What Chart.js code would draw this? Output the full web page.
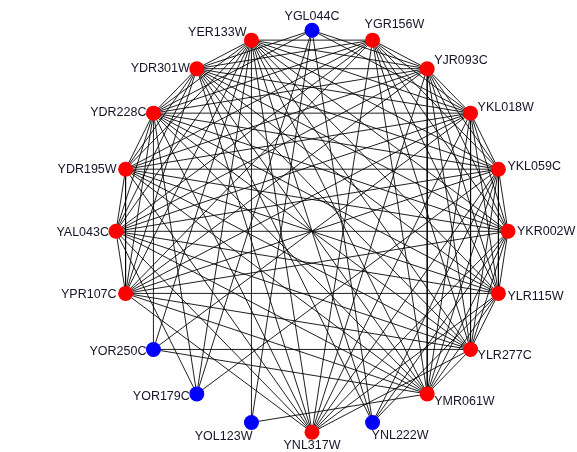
<!DOCTYPE html>
<html>
<head>
<meta charset="utf-8">
<script src="https://cdn.jsdelivr.net/npm/chart.js@4.4.1/dist/chart.umd.min.js"></script>
<style>
  html, body { margin: 0; padding: 0; background: #ffffff; }
  #wrap { width: 577px; height: 452px; }
</style>
</head>
<body>
<div id="wrap"><canvas id="net" width="577" height="452"></canvas></div>
<script>
// Proteins of the complex, placed clockwise around the ring starting from the left.
const proteins = [
  'YAL043C', 'YDR195W', 'YDR228C', 'YDR301W', 'YER133W',
  'YGL044C', 'YGR156W', 'YJR093C', 'YKL018W', 'YKL059C',
  'YKR002W', 'YLR115W', 'YLR277C', 'YMR061W', 'YNL222W',
  'YNL317W', 'YOL123W', 'YOR179C', 'YOR250C', 'YPR107C'
];

// Proteins drawn in blue; all others are drawn in red.
const blueProteins = ['YGL044C', 'YNL222W', 'YOL123W', 'YOR179C', 'YOR250C'];

// Interactions between the red proteins that are absent.
const missingRedPairs = [
  ['YNL317W', 'YMR061W']
];

// Interactions of the blue proteins.
const blueInteractions = [
  ['YGL044C', 'YDR301W'], ['YGL044C', 'YDR228C'], ['YGL044C', 'YOR179C'],
  ['YGL044C', 'YOL123W'], ['YGL044C', 'YNL222W'], ['YGL044C', 'YJR093C'],
  ['YGL044C', 'YKL018W'],
  ['YNL222W', 'YER133W'], ['YNL222W', 'YDR301W'], ['YNL222W', 'YKR002W'],
  ['YNL222W', 'YLR115W'], ['YNL222W', 'YKL059C'],
  ['YOL123W', 'YER133W'], ['YOL123W', 'YMR061W'],
  ['YOR179C', 'YER133W'], ['YOR179C', 'YKL059C'], ['YOR179C', 'YDR228C'],
  ['YOR179C', 'YAL043C'],
  ['YOR250C', 'YDR228C'], ['YOR250C', 'YLR277C'], ['YOR250C', 'YER133W'],
  ['YOR250C', 'YMR061W'], ['YOR250C', 'YKL018W']
];

// Build the full edge list.
const redProteins = proteins.filter(p => !blueProteins.includes(p));
const isMissing = (a, b) => missingRedPairs.some(([p, q]) => (p === a && q === b) || (p === b && q === a));
const interactions = [];
for (let i = 0; i < redProteins.length; i++) {
  for (let j = i + 1; j < redProteins.length; j++) {
    if (!isMissing(redProteins[i], redProteins[j])) interactions.push([redProteins[i], redProteins[j]]);
  }
}
blueInteractions.forEach(e => interactions.push(e));

// Circular layout: angle in degrees (0 = right, counter-clockwise positive).
const angleOf = name => 180 - 18 * proteins.indexOf(name);
const posOf = name => {
  const a = angleOf(name) * Math.PI / 180;
  return { x: Math.cos(a), y: Math.sin(a) };
};

const nodeData = proteins.map(p => posOf(p));
const nodeColors = proteins.map(p => blueProteins.includes(p) ? '#0000ff' : '#ff0000');

const edgeDatasets = interactions.map(([a, b]) => ({
  type: 'line',
  data: [posOf(a), posOf(b)],
  borderColor: 'rgba(0,0,0,0.88)',
  borderWidth: 1,
  pointRadius: 0,
  pointHoverRadius: 0,
  fill: false,
  tension: 0,
  clip: false
}));

// Label placement around the ring.
function labelPlacement(deg) {
  const a = deg * Math.PI / 180;
  const c = Math.cos(a), s = Math.sin(a);
  if (Math.abs(c) < 0.05) return { align: 'center', dx: 0, dy: s > 0 ? -14 : 13 };
  if (Math.abs(c) < 0.4) {
    if (s > 0) return c > 0 ? { align: 'left', dx: -8, dy: -16 } : { align: 'right', dx: -5, dy: -8 };
    return c > 0 ? { align: 'left', dx: -1, dy: 13 } : { align: 'right', dx: 1, dy: 14 };
  }
  if (c > 0) return { align: 'left', dx: c > 0.9 ? 9 : 7, dy: -s * 10 };
  return { align: 'right', dx: Math.abs(s) > 0.2 && Math.abs(s) < 0.5 ? -9 : -7, dy: 1 - s * 2 };
}

const labelPlugin = {
  id: 'nodeLabels',
  afterDatasetsDraw(chart) {
    const { ctx, scales } = chart;
    ctx.save();
    ctx.font = '12.5px "Liberation Sans", Arial, Helvetica, sans-serif';
    ctx.fillStyle = '#141428';
    ctx.textBaseline = 'middle';
    proteins.forEach(p => {
      const pt = posOf(p);
      const px = scales.x.getPixelForValue(pt.x);
      const py = scales.y.getPixelForValue(pt.y);
      const pl = labelPlacement(angleOf(p));
      ctx.textAlign = pl.align;
      ctx.fillText(p, px + pl.dx, py + pl.dy);
    });
    ctx.restore();
  }
};

new Chart(document.getElementById('net'), {
  type: 'scatter',
  data: {
    datasets: [
      {
        data: nodeData,
        backgroundColor: nodeColors,
        borderWidth: 0,
        pointRadius: 7.5,
        pointHoverRadius: 7.5,
        clip: false
      },
      ...edgeDatasets
    ]
  },
  options: {
    responsive: false,
    animation: false,
    devicePixelRatio: 1,
    layout: { padding: 0, autoPadding: false },
    plugins: { legend: { display: false }, tooltip: { enabled: false } },
    scales: {
      x: { type: 'linear', display: false, min: -312 / 196, max: 265 / 196 },
      y: { type: 'linear', display: false, min: -220.7 / 201, max: 231.3 / 201 }
    }
  },
  plugins: [labelPlugin]
});
</script>
</body>
</html>
